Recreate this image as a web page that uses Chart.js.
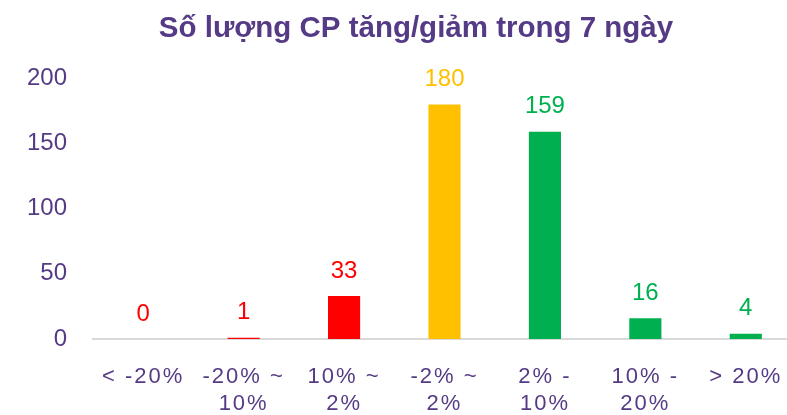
<!DOCTYPE html>
<html>
<head>
<meta charset="utf-8">
<script src="https://cdn.jsdelivr.net/npm/chart.js@4"></script>
<style>
  html, body { margin: 0; padding: 0; background: #fff; overflow: hidden; }
  #wrap { width: 832px; height: 415px; }
</style>
</head>
<body>
<div id="wrap"><canvas id="chart"></canvas></div>
<script>
const TITLE = 'Số lượng CP tăng/giảm trong 7 ngày';
const categories = [['< -20%'], ['-20% ~', '10%'], ['10% ~', '2%'], ['-2% ~', '2%'], ['2% -', '10%'], ['10% -', '20%'], ['> 20%']];
const counts = [0, 1, 33, 180, 159, 16, 4];
const barColors = ['#FF0000', '#FF0000', '#FF0000', '#FFC000', '#00B050', '#00B050', '#00B050'];
const yTicks = [0, 50, 100, 150, 200];

const PURPLE = '#553A85';

// draws the count above each bar, then turns on letter spacing for the x labels
const valueLabels = {
    id: 'valueLabels',
    afterLayout(chart) {
        // the picture is cropped on the right, so centre the title a bit further right
        if (chart.titleBlock) chart.titleBlock.left = 36;
    },
    afterDatasetsDraw(chart) {
        const ctx = chart.ctx;
        const meta = chart.getDatasetMeta(0);
        ctx.save();
        ctx.font = '24px "Liberation Sans", Arial, sans-serif';
        ctx.textAlign = 'center';
        ctx.textBaseline = 'middle';
        meta.data.forEach((bar, i) => {
            ctx.fillStyle = barColors[i];
            ctx.fillText(String(counts[i]), bar.x, bar.y - 25);
        });
        ctx.restore();
        ctx.letterSpacing = '2px';
    },
    afterDraw(chart) {
        chart.ctx.letterSpacing = '0px';
    }
};

new Chart(document.getElementById('chart'), {
    type: 'bar',
    data: {
        labels: categories,
        datasets: [{
            data: counts,
            backgroundColor: barColors,
            borderWidth: 0,
            categoryPercentage: 1,
            barPercentage: 0.32
        }]
    },
    options: {
        responsive: true,
        maintainAspectRatio: false,
        animation: false,
        layout: { padding: { left: 0, right: 36, top: 0, bottom: 0 } },
        plugins: {
            legend: { display: false },
            tooltip: { enabled: false },
            title: {
                display: true,
                text: TITLE,
                color: PURPLE,
                font: { family: '"Liberation Sans", Arial, sans-serif', size: 29.5, weight: 'bold' },
                padding: { top: 11, bottom: 32 }
            }
        },
        scales: {
            x: {
                grid: { display: false, drawTicks: false },
                border: { display: true, color: '#D9D9D9', width: 2 },
                ticks: {
                    color: PURPLE,
                    font: { family: '"Liberation Sans", Arial, sans-serif', size: 22, lineHeight: 1.25 },
                    padding: 24,
                    maxRotation: 0,
                    autoSkip: false,
                    z: 1
                },
                afterFit(scale) { scale.height = 76; }
            },
            y: {
                min: 0,
                max: 200,
                grid: { display: false, drawTicks: false },
                border: { display: false },
                afterBuildTicks(scale) { scale.ticks = yTicks.map(v => ({ value: v })); },
                ticks: {
                    color: PURPLE,
                    font: { family: '"Liberation Sans", Arial, sans-serif', size: 24 },
                    padding: 26
                },
                afterFit(scale) { scale.width = 93; }
            }
        }
    },
    plugins: [valueLabels]
});
</script>
</body>
</html>
